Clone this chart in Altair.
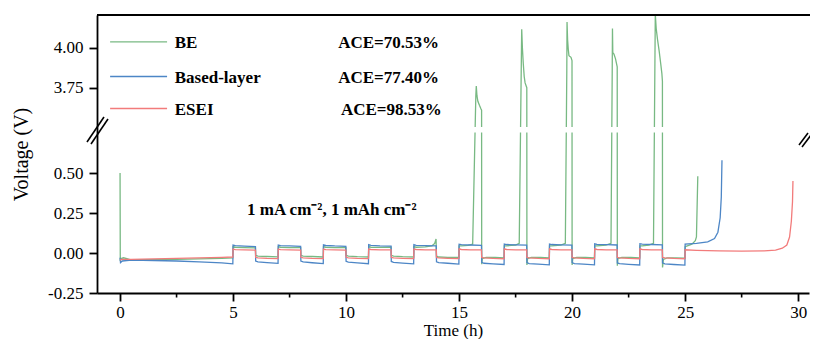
import altair as alt
import pandas as pd

# ---------------- data ----------------
series_names = ["BE", "Based-layer", "ESEI"]
series_colors = ["#78b983", "#4d86c6", "#f27b7b"]
ace_labels = ["ACE=70.53%", "ACE=77.40%", "ACE=98.53%"]

be_time = [0.0, 0.01, 0.05, 0.15, 0.3, 0.5, 0.8, 1.5, 2.5, 3.5, 4.5, 4.99,
           5.0, 5.1, 5.5, 5.99,
           6.0, 6.1, 6.5, 6.99,
           7.0, 7.1, 7.5, 7.99,
           8.0, 8.1, 8.5, 8.99,
           9.0, 9.1, 9.5, 9.99,
           10.0, 10.1, 10.5, 10.99,
           11.0, 11.1, 11.5, 11.99,
           12.0, 12.1, 12.5, 12.99,
           13.0, 13.1, 13.5, 13.8, 13.92, 13.98,
           14.0, 14.1, 14.5, 14.99,
           15.0, 15.1, 15.4, 15.6, 15.74, 15.76, 15.79, 15.83, 15.9, 15.96, 15.995,
           16.0, 16.03, 16.2, 16.6, 16.99,
           17.0, 17.1, 17.5, 17.66, 17.76, 17.77, 17.8, 17.84, 17.88, 17.92, 17.995,
           18.0, 18.03, 18.2, 18.6, 18.99,
           19.0, 19.1, 19.5, 19.7, 19.765, 19.775, 19.8, 19.83, 19.86, 19.95, 19.995,
           20.0, 20.03, 20.2, 20.6, 20.99,
           21.0, 21.1, 21.5, 21.72, 21.775, 21.785, 21.8, 21.85, 21.92, 21.995,
           22.0, 22.03, 22.2, 22.6, 22.99,
           23.0, 23.1, 23.4, 23.6, 23.68, 23.72, 23.78, 23.85, 23.92, 23.97, 23.995,
           24.0, 24.04, 24.2, 24.6, 24.99,
           25.0, 25.1, 25.3, 25.45, 25.5, 25.56]
be_volt = [0.50, -0.05, -0.035, -0.03, -0.035, -0.045, -0.042, -0.042, -0.04, -0.037, -0.033, -0.03,
           0.040, 0.036, 0.034, 0.032,
           -0.015, -0.020, -0.022, -0.024,
           0.040, 0.036, 0.034, 0.033,
           -0.015, -0.020, -0.022, -0.025,
           0.040, 0.036, 0.034, 0.034,
           -0.015, -0.020, -0.023, -0.025,
           0.040, 0.036, 0.035, 0.036,
           -0.015, -0.020, -0.023, -0.025,
           0.040, 0.036, 0.038, 0.045, 0.060, 0.088,
           -0.020, -0.025, -0.027, -0.028,
           0.045, 0.045, 0.048, 0.055, 3.70, 3.76, 3.70, 3.665, 3.64, 3.62, 3.61,
           -0.070, -0.035, -0.028, -0.028, -0.030,
           0.045, 0.045, 0.050, 0.060, 4.00, 4.115, 4.00, 3.90, 3.82, 3.78, 3.75,
           -0.075, -0.035, -0.028, -0.028, -0.030,
           0.045, 0.045, 0.050, 0.060, 3.86, 4.16, 4.05, 3.99, 3.95, 3.94, 3.92,
           -0.075, -0.035, -0.028, -0.028, -0.030,
           0.045, 0.045, 0.050, 0.060, 3.87, 4.12, 3.97, 3.96, 3.93, 3.88,
           -0.080, -0.035, -0.028, -0.028, -0.030,
           0.045, 0.045, 0.050, 0.060, 4.21, 4.12, 4.05, 3.98, 3.90, 3.84, 3.79,
           -0.090, -0.040, -0.030, -0.030, -0.032,
           0.040, 0.045, 0.055, 0.077, 0.10, 0.48]

bl_time = [0.0, 0.02, 0.1, 0.5, 1.5, 2.5, 3.5, 4.5, 4.99,
           5.0, 5.1, 5.5, 5.99, 6.0, 6.1, 6.5, 6.99,
           7.0, 7.1, 7.5, 7.99, 8.0, 8.1, 8.5, 8.99,
           9.0, 9.1, 9.5, 9.99, 10.0, 10.1, 10.5, 10.99,
           11.0, 11.1, 11.5, 11.99, 12.0, 12.1, 12.5, 12.99,
           13.0, 13.1, 13.5, 13.99, 14.0, 14.1, 14.5, 14.99,
           15.0, 15.1, 15.5, 15.99, 16.0, 16.1, 16.5, 16.99,
           17.0, 17.1, 17.5, 17.99, 18.0, 18.1, 18.5, 18.99,
           19.0, 19.1, 19.5, 19.99, 20.0, 20.1, 20.5, 20.99,
           21.0, 21.1, 21.5, 21.99, 22.0, 22.1, 22.5, 22.99,
           23.0, 23.1, 23.5, 23.99, 24.0, 24.1, 24.5, 24.99,
           25.0, 25.5, 26.0, 26.3, 26.45, 26.55, 26.6, 26.63]
bl_volt = [-0.03, -0.06, -0.05, -0.045, -0.047, -0.05, -0.055, -0.062, -0.068,
           0.050, 0.046, 0.043, 0.040, -0.050, -0.055, -0.060, -0.065,
           0.050, 0.046, 0.044, 0.041, -0.050, -0.056, -0.061, -0.066,
           0.051, 0.047, 0.044, 0.042, -0.052, -0.057, -0.062, -0.067,
           0.052, 0.048, 0.045, 0.043, -0.053, -0.058, -0.063, -0.068,
           0.052, 0.048, 0.046, 0.044, -0.055, -0.060, -0.064, -0.069,
           0.055, 0.052, 0.050, 0.048, -0.058, -0.064, -0.068, -0.072,
           0.056, 0.053, 0.051, 0.049, -0.060, -0.066, -0.070, -0.074,
           0.056, 0.053, 0.051, 0.049, -0.060, -0.066, -0.070, -0.074,
           0.057, 0.054, 0.052, 0.050, -0.062, -0.067, -0.071, -0.075,
           0.058, 0.055, 0.053, 0.051, -0.062, -0.068, -0.072, -0.076,
           0.055, 0.060, 0.070, 0.09, 0.13, 0.22, 0.35, 0.58]

es_time = [0.0, 0.05, 0.5, 1.5, 2.5, 3.5, 4.5, 4.99,
           5.0, 5.1, 5.5, 5.99, 6.0, 6.1, 6.5, 6.99,
           7.0, 7.1, 7.5, 7.99, 8.0, 8.1, 8.5, 8.99,
           9.0, 9.1, 9.5, 9.99, 10.0, 10.1, 10.5, 10.99,
           11.0, 11.1, 11.5, 11.99, 12.0, 12.1, 12.5, 12.99,
           13.0, 13.1, 13.5, 13.99, 14.0, 14.1, 14.5, 14.99,
           15.0, 15.1, 15.5, 15.99, 16.0, 16.1, 16.5, 16.99,
           17.0, 17.1, 17.5, 17.99, 18.0, 18.1, 18.5, 18.99,
           19.0, 19.1, 19.5, 19.99, 20.0, 20.1, 20.5, 20.99,
           21.0, 21.1, 21.5, 21.99, 22.0, 22.1, 22.5, 22.99,
           23.0, 23.1, 23.5, 23.99, 24.0, 24.1, 24.5, 24.99,
           25.0, 25.5, 26.5, 27.5, 28.5, 29.0, 29.3, 29.5, 29.62, 29.7, 29.75, 29.77]
es_volt = [-0.045, -0.040, -0.040, -0.037, -0.034, -0.030, -0.027, -0.025,
           0.025, 0.021, 0.019, 0.018, -0.027, -0.030, -0.033, -0.035,
           0.025, 0.021, 0.019, 0.018, -0.027, -0.030, -0.033, -0.035,
           0.025, 0.021, 0.020, 0.018, -0.027, -0.030, -0.033, -0.035,
           0.025, 0.022, 0.020, 0.019, -0.028, -0.031, -0.033, -0.035,
           0.025, 0.022, 0.020, 0.019, -0.028, -0.031, -0.033, -0.035,
           0.026, 0.022, 0.020, 0.019, -0.028, -0.031, -0.034, -0.036,
           0.026, 0.022, 0.020, 0.019, -0.028, -0.031, -0.034, -0.036,
           0.026, 0.022, 0.020, 0.019, -0.028, -0.031, -0.034, -0.036,
           0.026, 0.022, 0.020, 0.019, -0.028, -0.031, -0.034, -0.036,
           0.026, 0.022, 0.020, 0.019, -0.028, -0.031, -0.034, -0.036,
           0.020, 0.017, 0.013, 0.012, 0.013, 0.018, 0.030, 0.050, 0.10, 0.20, 0.32, 0.45]

x_major_ticks = [0, 5, 10, 15, 20, 25, 30]
x_minor_ticks = [2.5, 7.5, 12.5, 17.5, 22.5, 27.5]
y_tick_values = [-0.25, 0.0, 0.25, 0.50, 3.75, 4.00]
annotation_text = "1 mA cm\u207b\u00b2, 1 mAh cm\u207b\u00b2"

# ---------------- layout constants ----------------
BREAK_SHIFT = 2.717          # upper segment (3.49-4.20 V) shifted down onto the 0.77 V line
W, H = 712, 278
X_DOM = [-1.02, 30.48]
Y_DOM = [-0.25, 1.4875]
FONT = "'Liberation Serif', 'Times New Roman', serif"

assert len(be_time) == len(be_volt)
assert len(bl_time) == len(bl_volt)
assert len(es_time) == len(es_volt)

frames = []
for name, tt, vv in [("BE", be_time, be_volt), ("Based-layer", bl_time, bl_volt), ("ESEI", es_time, es_volt)]:
    frames.append(pd.DataFrame({"series": name, "t": tt, "v": vv, "idx": range(len(tt))}))
df = pd.concat(frames, ignore_index=True)

y_axis_vals = [v if v < 2 else round(v - BREAK_SHIFT, 4) for v in y_tick_values]
label_expr = (f"datum.value > 0.8 ? format(datum.value + {BREAK_SHIFT}, '.2f') : "
              "(datum.value < -0.2 ? '-0.25' : format(datum.value, '.2f'))")

color_scale = alt.Scale(domain=series_names, range=series_colors)
xs = alt.Scale(domain=X_DOM, nice=False, zero=False)
ys = alt.Scale(domain=Y_DOM, nice=False, zero=False)

lines = alt.Chart(df).transform_calculate(
    yd=f"datum.v > 2 ? datum.v - {BREAK_SHIFT} : datum.v"
).mark_line(strokeWidth=1.3, clip=True).encode(
    x=alt.X("t:Q", scale=xs, axis=alt.Axis(values=x_major_ticks, title="Time (h)", format="d",
                                          labelPadding=3, titlePadding=2)),
    y=alt.Y("yd:Q", scale=ys, axis=alt.Axis(values=y_axis_vals, labelExpr=label_expr,
                                           title="Voltage (V)", labelPadding=6, titlePadding=16,
                                           titleFontSize=20)),
    color=alt.Color("series:N", scale=color_scale, legend=None),
    order=alt.Order("idx:Q"),
)

# gap of the broken axis
gap = alt.Chart(pd.DataFrame({"a": [0]})).mark_rect(color="white").encode(
    x=alt.value(2), x2=alt.value(W), y=alt.value(112), y2=alt.value(117.5)
)

# minor ticks on x
minor = alt.Chart(pd.DataFrame({"m": x_minor_ticks})).mark_rule(
    color="black", strokeWidth=1.6, clip=False
).encode(x=alt.X("m:Q", scale=xs), y=alt.value(H), y2=alt.value(H + 4.5))

# top frame line
top = alt.Chart(pd.DataFrame({"a": [0]})).mark_rule(color="black", strokeWidth=1.8, clip=False).encode(
    x=alt.value(0), x2=alt.value(W + 1), y=alt.value(0)
)

# break marks "//"
brk = pd.DataFrame({
    "x0": [-10, -6, 702, 705],
    "y0": [127, 129, 130, 132],
    "x1": [7, 11, 711, 714],
    "y1": [102, 104, 118, 120],
})
breaks = alt.Chart(brk).mark_rule(color="black", strokeWidth=1.6, clip=False).encode(
    x=alt.X("x0:Q", scale=None), x2="x1:Q", y=alt.Y("y0:Q", scale=None), y2="y1:Q"
)

# legend (custom)
leg = pd.DataFrame({
    "series": series_names,
    "ace": ace_labels,
    "ly": [1.319, 1.103, 0.903],
    "lx0": [-0.44] * 3,
    "lx1": [2.08] * 3,
    "tx": [2.42] * 3,
    "ax": [9.65, 9.65, 9.77],
})
leg_lines = alt.Chart(leg).mark_rule(strokeWidth=1.3).encode(
    x=alt.X("lx0:Q", scale=xs), x2="lx1:Q", y=alt.Y("ly:Q", scale=ys),
    color=alt.Color("series:N", scale=color_scale, legend=None),
)
leg_text = alt.Chart(leg).mark_text(
    align="left", baseline="middle", font=FONT, fontSize=17, fontWeight="bold", color="black", dy=1
).encode(x=alt.X("tx:Q", scale=xs), y=alt.Y("ly:Q", scale=ys), text="series:N")
ace_text = alt.Chart(leg).mark_text(
    align="left", baseline="middle", font=FONT, fontSize=17, fontWeight="bold", color="black", dy=1
).encode(x=alt.X("ax:Q", scale=xs), y=alt.Y("ly:Q", scale=ys), text="ace:N")

ann = alt.Chart(pd.DataFrame({"x": [5.62], "y": [0.27], "txt": [annotation_text]})).mark_text(
    align="left", baseline="middle", font=FONT, fontSize=17, fontWeight="bold", color="black"
).encode(x=alt.X("x:Q", scale=xs), y=alt.Y("y:Q", scale=ys), text="txt:N")

chart = alt.layer(lines, gap, minor, top, breaks, leg_lines, leg_text, ace_text, ann).properties(
    width=W, height=H,
    autosize=alt.AutoSizeParams(type="none"),
    padding={"left": 89, "top": 7, "right": 1, "bottom": 46},
).configure_view(stroke=None).configure_axis(
    grid=False, domainColor="black", domainWidth=1.8, tickColor="black", tickWidth=1.8, tickSize=8,
    labelFont=FONT, labelFontSize=17, labelColor="black",
    titleFont=FONT, titleFontSize=17, titleFontWeight="normal", titleColor="black",
)

chart.save("out.html", embed_options={"renderer": "svg", "actions": False})
